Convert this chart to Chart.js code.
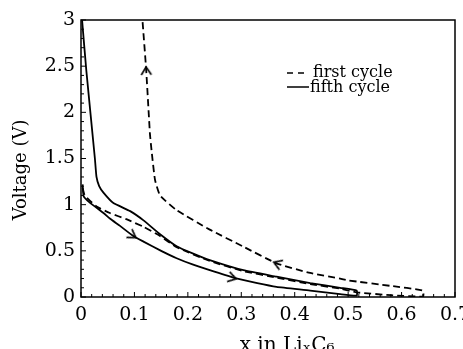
<!DOCTYPE html>
<html>
<head>
<meta charset="utf-8">
<script src="https://cdn.jsdelivr.net/npm/chart.js@4.4.0/dist/chart.umd.min.js"></script>
<style>
  html, body { margin: 0; padding: 0; background: #fff; }
</style>
</head>
<body>
<canvas id="graph" width="463" height="349"></canvas>
<script>
// fifth cycle: discharge (lower branch) then charge (upper branch)
var fifthDisX = [0.003, 0.005, 0.017, 0.042, 0.054, 0.073, 0.098, 0.117, 0.15, 0.179, 0.21, 0.241, 0.285, 0.33, 0.366, 0.429, 0.485, 0.516];
var fifthDisV = [1.22, 1.09, 1.02, 0.91, 0.85, 0.77, 0.66, 0.60, 0.50, 0.42, 0.35, 0.29, 0.21, 0.15, 0.11, 0.07, 0.03, 0.015];
var fifthChgX = [0.516, 0.485, 0.429, 0.366, 0.304, 0.241, 0.21, 0.179, 0.148, 0.117, 0.092, 0.06, 0.042, 0.034, 0.029, 0.026, 0.010, 0.002];
var fifthChgV = [0.07, 0.10, 0.15, 0.22, 0.29, 0.40, 0.47, 0.55, 0.68, 0.83, 0.93, 1.02, 1.13, 1.20, 1.30, 1.50, 2.45, 3.0];

// first cycle
var firstDisX = [0.003, 0.007, 0.029, 0.054, 0.086, 0.117, 0.148, 0.179, 0.241, 0.304, 0.366, 0.429, 0.485, 0.516, 0.58, 0.64];
var firstDisV = [1.18, 1.10, 0.98, 0.91, 0.84, 0.76, 0.66, 0.54, 0.39, 0.28, 0.21, 0.14, 0.09, 0.05, 0.02, 0.005];
var firstChgX = [0.64, 0.58, 0.50, 0.485, 0.429, 0.366, 0.304, 0.241, 0.179, 0.148, 0.1385, 0.132, 0.129, 0.122, 0.115];
var firstChgV = [0.07, 0.12, 0.18, 0.20, 0.26, 0.365, 0.545, 0.73, 0.94, 1.10, 1.27, 1.59, 1.77, 2.46, 3.0];

// direction arrows sitting on the curves
var arrowX = [0.122, 0.366, 0.098, 0.285];
var arrowV = [2.46, 0.365, 0.66, 0.205];

var xTickLabels = ['0', '0.1', '0.2', '0.3', '0.4', '0.5', '0.6', '0.7'];
var yTickLabels = ['0', '0.5', '1', '1.5', '2', '2.5', '3'];

function pts(xs, vs) {
  var out = [];
  for (var i = 0; i < xs.length; i++) out.push({x: xs[i], y: vs[i]});
  return out;
}

function chevron() {
  var c = document.createElement('canvas');
  c.width = 16; c.height = 16;
  var g = c.getContext('2d');
  g.strokeStyle = '#000';
  g.lineWidth = 1.6;
  g.beginPath();
  g.moveTo(3, 3); g.lineTo(11, 8); g.lineTo(3, 13);
  g.stroke();
  return c;
}

var serif = 'DejaVu Serif';

// box frame, inward ticks, and the little legend in the corner
var frameTicks = {
  id: 'frameTicks',
  afterDraw: function(chart) {
    var ctx = chart.ctx, a = chart.chartArea;
    var x = chart.scales.x, y = chart.scales.y;
    ctx.save();
    ctx.strokeStyle = '#000';
    ctx.lineWidth = 1.5;
    ctx.strokeRect(a.left, a.top, a.right - a.left, a.bottom - a.top);
    ctx.lineWidth = 1;
    ctx.beginPath();
    for (var i = 0; i <= 35; i++) {
      var px = x.getPixelForValue(i * 0.02);
      ctx.moveTo(px, a.bottom);
      ctx.lineTo(px, a.bottom - (i % 5 == 0 ? 5 : 3));
    }
    for (var j = 0; j <= 30; j++) {
      var py = y.getPixelForValue(j * 0.1);
      ctx.moveTo(a.left, py);
      ctx.lineTo(a.left + (j % 5 == 0 ? 5 : 3), py);
    }
    ctx.stroke();

    var lx = a.right - 168;
    ctx.lineWidth = 1.7;
    ctx.beginPath();
    ctx.moveTo(lx, a.top + 53); ctx.lineTo(lx + 6, a.top + 53);
    ctx.moveTo(lx + 11, a.top + 53); ctx.lineTo(lx + 17, a.top + 53);
    ctx.moveTo(lx, a.top + 67); ctx.lineTo(lx + 22, a.top + 67);
    ctx.stroke();
    ctx.fillStyle = '#000';
    ctx.font = '16px "' + serif + '"';
    ctx.textBaseline = 'alphabetic';
    ctx.fillText('first cycle', lx + 26, a.top + 57);
    ctx.fillText('fifth cycle', lx + 23, a.top + 72);
    ctx.restore();
  }
};

var ctx = document.getElementById('graph');
var chart = new Chart(ctx, {
  type: 'scatter',
  data: {
    datasets: [
      {
        label: 'first cycle',
        data: pts(firstDisX.concat(firstChgX), firstDisV.concat(firstChgV)),
        showLine: true,
        borderColor: '#000',
        borderWidth: 1.8,
        borderDash: [7, 4],
        tension: 0.15,
        pointRadius: 0
      },
      {
        label: 'fifth cycle',
        data: pts(fifthDisX.concat(fifthChgX), fifthDisV.concat(fifthChgV)),
        showLine: true,
        borderColor: '#000',
        borderWidth: 1.8,
        tension: 0.15,
        pointRadius: 0
      },
      {
        label: 'arrows',
        data: pts(arrowX, arrowV),
        showLine: false,
        pointStyle: chevron(),
        pointRadius: 4,
        pointRotation: [-92, 201, 34, 15]
      }
    ]
  },
  options: {
    responsive: false,
    animation: false,
    layout: { padding: { top: 20, right: 8, left: 0, bottom: 0 } },
    plugins: {
      legend: { display: false },
      tooltip: { enabled: false }
    },
    scales: {
      x: {
        type: 'linear',
        min: 0,
        max: 0.7,
        grid: { display: false, drawTicks: false },
        border: { display: false },
        ticks: {
          stepSize: 0.1,
          padding: 7,
          color: '#000',
          maxRotation: 0,
          autoSkip: false,
          font: { family: serif, size: 19 },
          callback: function(v) { return xTickLabels[Math.round(v * 10)]; }
        },
        title: {
          display: true,
          text: '      x in Li\u2093C\u2086',
          color: '#000',
          font: { family: serif, size: 20 },
          padding: { top: 0, bottom: -9 }
        },
        afterFit: function(s) { s.height = 52; s.paddingLeft = 0; s.paddingRight = 0; }
      },
      y: {
        type: 'linear',
        min: 0,
        max: 3,
        grid: { display: false, drawTicks: false },
        border: { display: false },
        ticks: {
          stepSize: 0.5,
          padding: 6,
          color: '#000',
          font: { family: serif, size: 19 },
          callback: function(v) { return yTickLabels[Math.round(v * 2)]; }
        },
        title: {
          display: true,
          text: 'Voltage (V)    ',
          color: '#000',
          font: { family: serif, size: 18 },
          padding: { top: 11, bottom: 0 }
        },
        afterFit: function(s) { s.width = 81; s.paddingTop = 0; s.paddingBottom = 0; }
      }
    }
  },
  plugins: [frameTicks]
});
</script>
</body>
</html>
